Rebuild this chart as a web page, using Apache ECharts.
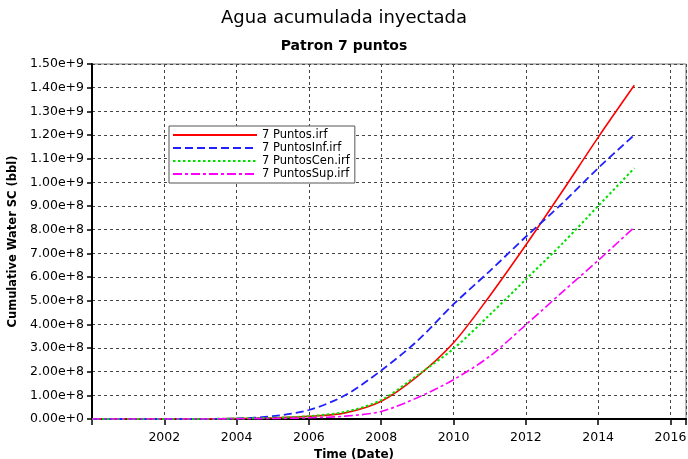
<!DOCTYPE html>
<html>
<head>
<meta charset="utf-8">
<script src="https://cdn.jsdelivr.net/npm/echarts@6/dist/echarts.min.js"></script>
<style>
  html, body { margin: 0; padding: 0; background: #fff; }
  #main { width: 688px; height: 459px; }
</style>
</head>
<body>
<div id="main"></div>
<script>
// yearly samples (value at 1 Jan of each year)
const years = [2000, 2001, 2002, 2003, 2004, 2005, 2006, 2007, 2008, 2009, 2010, 2011, 2012, 2013, 2014, 2015]
const puntos = [0, 0, 0, 0, 2e6, 5e6, 1.1e7, 2.6e7, 7.5e7, 1.8e8, 3.22e8, 5.2e8, 7.35e8, 9.6e8, 1.19e9, 1.41e9]
const puntosInf = [0, 0, 0, 0, 2e6, 1.2e7, 3.8e7, 1.0e8, 2.05e8, 3.3e8, 4.85e8, 6.25e8, 7.7e8, 9.1e8, 1.06e9, 1.2e9]
const puntosCen = [0, 0, 0, 0, 2e6, 5e6, 1.2e7, 3.0e7, 8.0e7, 1.85e8, 2.97e8, 4.4e8, 5.9e8, 7.4e8, 9.0e8, 1.06e9]
const puntosSup = [0, 0, 0, 0, 1e6, 2e6, 5e6, 1.2e7, 3.2e7, 9.0e7, 1.66e8, 2.65e8, 3.98e8, 5.35e8, 6.7e8, 8.1e8]
const seriesNames = ['7 Puntos.irf', '7 PuntosInf.irf', '7 PuntosCen.irf', '7 PuntosSup.irf']

const font = 'DejaVu Sans'
const chart = echarts.init(document.getElementById('main'))

const pairs = (vals) => years.map((y, i) => [y, vals[i]])

const mkSeries = (name, vals, color, type, width) => ({
  name: name,
  type: 'line',
  data: pairs(vals),
  symbol: 'none',
  smooth: 0.3,
  lineStyle: { color: color, width: width, type: type },
  itemStyle: { color: color },
  animation: false
})

const option = {
  backgroundColor: '#fff',
  title: [
    {
      text: 'Agua acumulada inyectada',
      left: 'center',
      top: 4,
      padding: [5, 0, 5, 20],
      textStyle: { fontFamily: font, fontSize: 18, fontWeight: 'normal', color: '#000' }
    },
    {
      text: 'Patron 7 puntos',
      left: 'center',
      top: 34,
      padding: [5, 0, 5, 20],
      textStyle: { fontFamily: font, fontSize: 14, fontWeight: 'bold', color: '#000' }
    }
  ],
  legend: {
    orient: 'vertical',
    left: 169,
    top: 126,
    padding: [3, 5, 3, 3],
    itemWidth: 84,
    itemHeight: 10,
    itemGap: 1,
    backgroundColor: '#fff',
    borderColor: '#555',
    borderWidth: 1,
    borderRadius: 0,
    itemStyle: { opacity: 0 },
    data: seriesNames,
    textStyle: { fontFamily: font, fontSize: 11.5, color: '#000' }
  },
  grid: {
    left: 92,
    right: 2,
    top: 64,
    bottom: 40,
    outerBoundsMode: 'none',
    containLabel: false,
    show: true,
    borderColor: '#777',
    borderWidth: 1
  },
  xAxis: {
    type: 'value',
    min: 2000,
    max: 2016.43,
    interval: 2,
    name: 'Time (Date)',
    nameLocation: 'middle',
    nameGap: 27,
    nameTextStyle: { fontFamily: font, fontSize: 12, fontWeight: 'bold', color: '#000', padding: [0, 70, 0, 0] },
    axisLine: { show: true, lineStyle: { color: '#000', width: 2 } },
    axisTick: { show: true, length: 6, lineStyle: { color: '#000', width: 1.5 } },
    axisLabel: {
      margin: 12,
      fontFamily: font,
      fontSize: 12.5,
      color: '#000',
      formatter: (v) => (v % 2 === 0 && v !== 2000 ? String(v) : '')
    },
    splitLine: { show: true, lineStyle: { color: '#444', width: 1, type: [3, 3] } }
  },
  yAxis: {
    type: 'value',
    min: 0,
    max: 1.5e9,
    interval: 1e8,
    name: 'Cumulative Water SC (bbl)',
    nameLocation: 'middle',
    nameGap: 66,
    nameTextStyle: { fontFamily: font, fontSize: 11.5, fontWeight: 'bold', color: '#000' },
    axisLine: { show: true, lineStyle: { color: '#000', width: 2 } },
    axisTick: { show: true, length: 5, lineStyle: { color: '#000', width: 1.5 } },
    axisLabel: {
      margin: 8,
      fontFamily: font,
      fontSize: 12.5,
      color: '#000',
      formatter: (v) => v.toExponential(2)
    },
    splitLine: { show: true, lineStyle: { color: '#444', width: 1, type: [3, 3] } }
  },
  series: [
    mkSeries(seriesNames[0], puntos, '#ff0000', 'solid', 1.6),
    mkSeries(seriesNames[1], puntosInf, '#2020ff', [8, 4], 1.8),
    mkSeries(seriesNames[2], puntosCen, '#00e000', [2.5, 2.5], 2),
    mkSeries(seriesNames[3], puntosSup, '#ff00ff', [9, 3, 3, 3], 1.6)
  ]
}

chart.setOption(option)
</script>
</body>
</html>
